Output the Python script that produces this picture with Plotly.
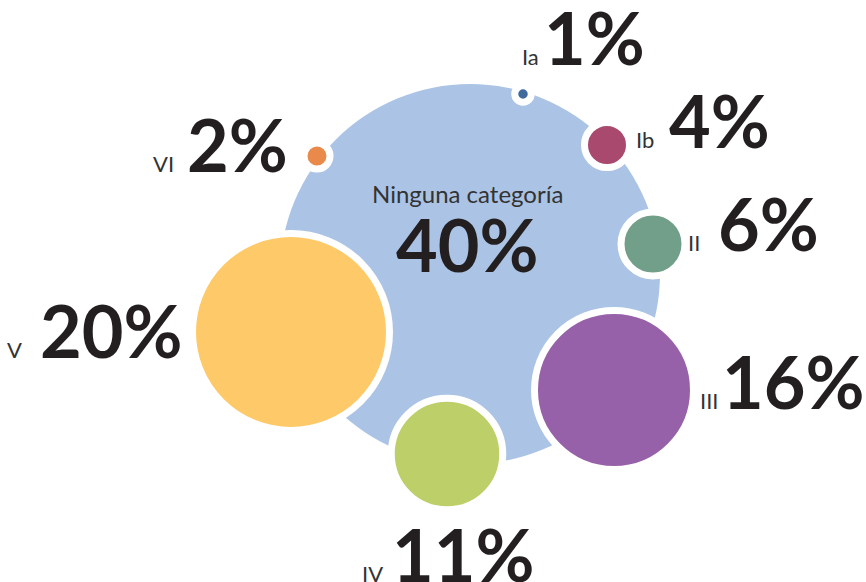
import plotly.graph_objects as go

# categories and shares (%)
labels = ["Ninguna categoría", "Ia", "Ib", "VI", "II", "V", "III", "IV"]
values = [40, 1, 4, 2, 6, 20, 16, 11]
colors = ["#abc4e5", "#3f6a9b", "#a8496d", "#e98a4b", "#729f89", "#fec968", "#9661a8", "#bccf68"]

# bubble centres on the page (pixel coords)
pos_x = [470, 523, 607, 317, 653, 291, 614, 447]
pos_y = [274, 94, 145, 156, 244, 332, 390, 454]

# text anchors: right edge of the small label, centre of the number, baseline
lab_right = [0, 541, 656, 176, 702, 24, 720, 385]
num_mid = [467, 594, 719, 237, 768, 111, 793, 463]
base_y = [272, 65, 148, 172, 251, 358, 409, 582]

px_per_pct = 9.5
ring = 7

sizes = [v * px_per_pct + (ring if i > 0 else 0) for i, v in enumerate(values)]
lines = [0] + [ring] * (len(values) - 1)

fig = go.Figure()
fig.add_scatter(x=pos_x, y=pos_y, mode="markers",
                marker=dict(size=sizes, sizemode="diameter", color=colors,
                            line=dict(color="white", width=lines), opacity=1),
                hoverinfo="skip")

font = "Lato"
num_size = 72
lab_size = 22
txt_color = "#231f20"
lab_color = "#333333"


def mid_of(baseline, size):
    # centre of the annotation box, from the text baseline (Lato metrics)
    return baseline - 0.387 * size


for i in range(1, len(labels)):
    fig.add_annotation(x=num_mid[i], y=mid_of(base_y[i], num_size), text=str(values[i]) + "%",
                       showarrow=False, xanchor="center", yanchor="middle",
                       font=dict(family=font, size=num_size, color=txt_color, weight="bold"))
    fig.add_annotation(x=lab_right[i], y=mid_of(base_y[i], lab_size), text=labels[i],
                       showarrow=False, xanchor="right", yanchor="middle",
                       font=dict(family=font, size=lab_size, color=lab_color))

# centre labels
fig.add_annotation(x=467, y=mid_of(203, 24), text=labels[0], showarrow=False,
                   yanchor="middle", font=dict(family=font, size=24, color=lab_color))
fig.add_annotation(x=num_mid[0], y=mid_of(base_y[0], num_size), text=str(values[0]) + "%",
                   showarrow=False, yanchor="middle",
                   font=dict(family=font, size=num_size, color=txt_color, weight="bold"))

fig.update_xaxes(range=[0, 866], visible=False, fixedrange=True)
fig.update_yaxes(range=[582, 0], visible=False, fixedrange=True)
fig.update_layout(width=866, height=582, margin=dict(l=0, r=0, t=0, b=0),
                  showlegend=False, plot_bgcolor="white", paper_bgcolor="white")

fig.write_html("out.html", config={"displayModeBar": False},
               post_script="document.body.style.margin='0';")
